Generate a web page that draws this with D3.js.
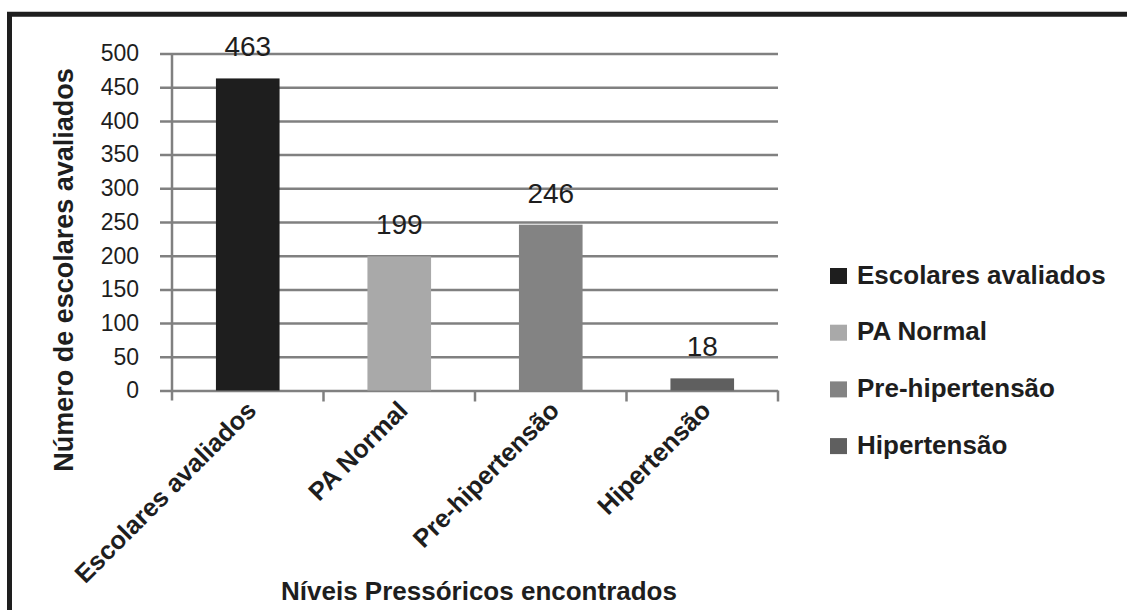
<!DOCTYPE html>
<html>
<head>
<meta charset="utf-8">
<script src="https://cdn.jsdelivr.net/npm/d3@7"></script>
<style>
  html, body { margin: 0; padding: 0; background: #fff; }
  svg { display: block; font-family: "Liberation Sans", Arial, sans-serif; }
</style>
</head>
<body>
<svg id="chart" width="1127" height="610"></svg>
<script>
// Blood-pressure levels among evaluated schoolchildren
const categories = ["Escolares avaliados", "PA Normal", "Pre-hipertensão", "Hipertensão"];
const values = [463, 199, 246, 18];
const colors = ["#1e1e1e", "#a9a9a9", "#838383", "#5f5f5f"];
const yTicks = [0, 50, 100, 150, 200, 250, 300, 350, 400, 450, 500];
const yTitle = "Número de escolares avaliados";
const xTitle = "Níveis Pressóricos encontrados";

const svg = d3.select("#chart");
const plot = { left: 172, right: 778, top: 53.5, bottom: 390.5 };

const x = d3.scaleBand().domain(categories).range([plot.left, plot.right]).paddingInner(0.58).paddingOuter(0.29);
const xCat = d3.scaleBand().domain(categories).range([plot.left, plot.right]);
const y = d3.scaleLinear().domain([0, 500]).range([plot.bottom, plot.top]);

// outer frame (left and top edges)
svg.append("path")
  .attr("d", `M9.5,610 V14.2 H1127`)
  .attr("fill", "none")
  .attr("stroke", "#1e1e1e")
  .attr("stroke-width", 5);

// horizontal gridlines with left tick marks
const yAxis = d3.axisLeft(y).tickValues(yTicks).tickSize(-(plot.right - plot.left)).tickSizeOuter(0).tickPadding(33);
const gy = svg.append("g").attr("transform", `translate(${plot.left},0)`).call(yAxis);
gy.select(".domain").remove();
gy.selectAll(".tick line")
  .attr("x1", -12)
  .attr("stroke", "#808080")
  .attr("stroke-width", 2.5);
gy.selectAll(".tick text")
  .attr("font-size", 23)
  .attr("fill", "#1e1e1e")
  .attr("font-family", "Liberation Sans, Arial, sans-serif");

// vertical axis line
svg.append("line")
  .attr("x1", plot.left).attr("x2", plot.left)
  .attr("y1", plot.top).attr("y2", plot.bottom + 10)
  .attr("stroke", "#808080").attr("stroke-width", 2.5);

// category tick marks along the baseline
const tickXs = categories.map(c => xCat(c)).concat([plot.right]);
svg.append("g").selectAll("line").data(tickXs.slice(1)).join("line")
  .attr("x1", d => d).attr("x2", d => d)
  .attr("y1", plot.bottom).attr("y2", plot.bottom + 11)
  .attr("stroke", "#808080").attr("stroke-width", 2.5);

// bars
svg.append("g").selectAll("rect").data(values).join("rect")
  .attr("x", (d, i) => x(categories[i]))
  .attr("y", d => y(d))
  .attr("width", x.bandwidth())
  .attr("height", d => y(0) - y(d))
  .attr("fill", (d, i) => colors[i]);

// value labels
svg.append("g").selectAll("text").data(values).join("text")
  .attr("x", (d, i) => x(categories[i]) + x.bandwidth() / 2)
  .attr("y", d => y(d) - 22)
  .attr("text-anchor", "middle")
  .attr("font-size", 28)
  .attr("fill", "#1e1e1e")
  .text(d => d);

// rotated category labels
svg.append("g").selectAll("text").data(categories).join("text")
  .attr("transform", d => `translate(${xCat(d) + xCat.bandwidth() / 2 + 10},412) rotate(-45)`)
  .attr("text-anchor", "end")
  .attr("font-size", 25.5)
  .attr("font-weight", "bold")
  .attr("fill", "#1e1e1e")
  .text(d => d);

// axis titles
svg.append("text")
  .attr("transform", "translate(73,270) rotate(-90)")
  .attr("text-anchor", "middle")
  .attr("font-size", 27)
  .attr("font-weight", "bold")
  .attr("fill", "#1e1e1e")
  .text(yTitle);

svg.append("text")
  .attr("x", (plot.left + plot.right) / 2 + 4)
  .attr("y", 600)
  .attr("text-anchor", "middle")
  .attr("font-size", 26)
  .attr("font-weight", "bold")
  .attr("fill", "#1e1e1e")
  .text(xTitle);

// legend
const legend = svg.append("g").attr("transform", "translate(830,268)");
const rows = legend.selectAll("g").data(categories).join("g")
  .attr("transform", (d, i) => `translate(0,${i * 56.7})`);
rows.append("rect")
  .attr("width", 17).attr("height", 16)
  .attr("fill", (d, i) => colors[i]);
rows.append("text")
  .attr("x", 27).attr("y", 15.5)
  .attr("font-size", 26)
  .attr("font-weight", "bold")
  .attr("fill", "#1e1e1e")
  .text(d => d);
</script>
</body>
</html>
